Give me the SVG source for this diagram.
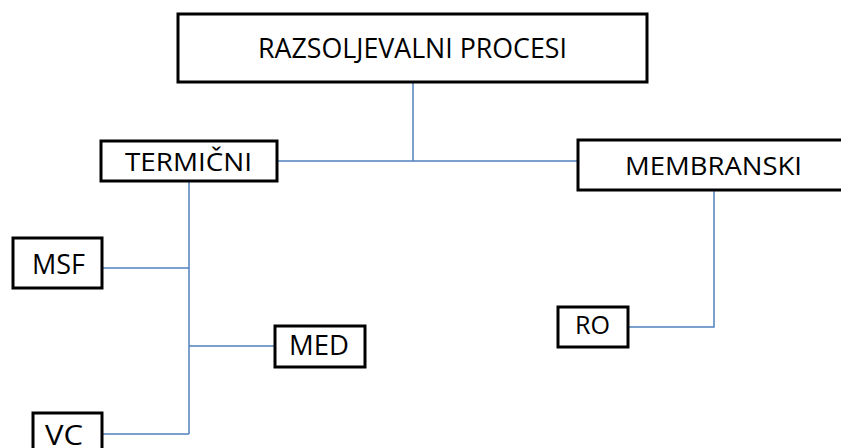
<svg xmlns="http://www.w3.org/2000/svg" width="841" height="448" viewBox="0 0 841 448">
<style>
.box{fill:#fff;stroke:#000;stroke-width:3}
.lbl{font-family:"Open Sans","Liberation Sans",sans-serif;fill:#000;text-anchor:start}
.con{fill:none;stroke:#4F81BD;stroke-width:1.5}
</style>
<rect width="841" height="448" fill="#fff"/>
<g id="connectors">
<path class="con" d="M413,82 V161"/>
<path class="con" d="M277,161 H578"/>
<path class="con" d="M189,181 V434"/>
<path class="con" d="M102,268 H189"/>
<path class="con" d="M189,346 H275"/>
<path class="con" d="M102,434 H189"/>
<path class="con" d="M714,190 V327 H628"/>
</g>
<g id="razsoljevalni">
<rect class="box" x="178" y="14" width="469" height="68"/>
<text class="lbl" x="258" y="58" font-size="27" textLength="309" lengthAdjust="spacingAndGlyphs">RAZSOLJEVALNI PROCESI</text>
</g>
<g id="termicni">
<rect class="box" x="101" y="141" width="176" height="40"/>
<text class="lbl" x="125" y="171" font-size="25" textLength="127" lengthAdjust="spacingAndGlyphs">TERMIČNI</text>
</g>
<g id="membranski">
<rect class="box" x="578" y="140" width="270" height="50"/>
<text class="lbl" x="625" y="175" font-size="26" textLength="177" lengthAdjust="spacingAndGlyphs">MEMBRANSKI</text>
</g>
<g id="msf">
<rect class="box" x="13" y="238" width="89" height="50"/>
<text class="lbl" x="32" y="274" font-size="27" textLength="53" lengthAdjust="spacingAndGlyphs">MSF</text>
</g>
<g id="med">
<rect class="box" x="275" y="326" width="90" height="41"/>
<text class="lbl" x="289" y="355" font-size="27" textLength="60" lengthAdjust="spacingAndGlyphs">MED</text>
</g>
<g id="vc">
<rect class="box" x="33" y="413" width="69" height="50"/>
<text class="lbl" x="45" y="445" font-size="27" textLength="38" lengthAdjust="spacingAndGlyphs">VC</text>
</g>
<g id="ro">
<rect class="box" x="558" y="307" width="70" height="40"/>
<text class="lbl" x="575" y="334" font-size="26" textLength="35" lengthAdjust="spacingAndGlyphs">RO</text>
</g>
</svg>
